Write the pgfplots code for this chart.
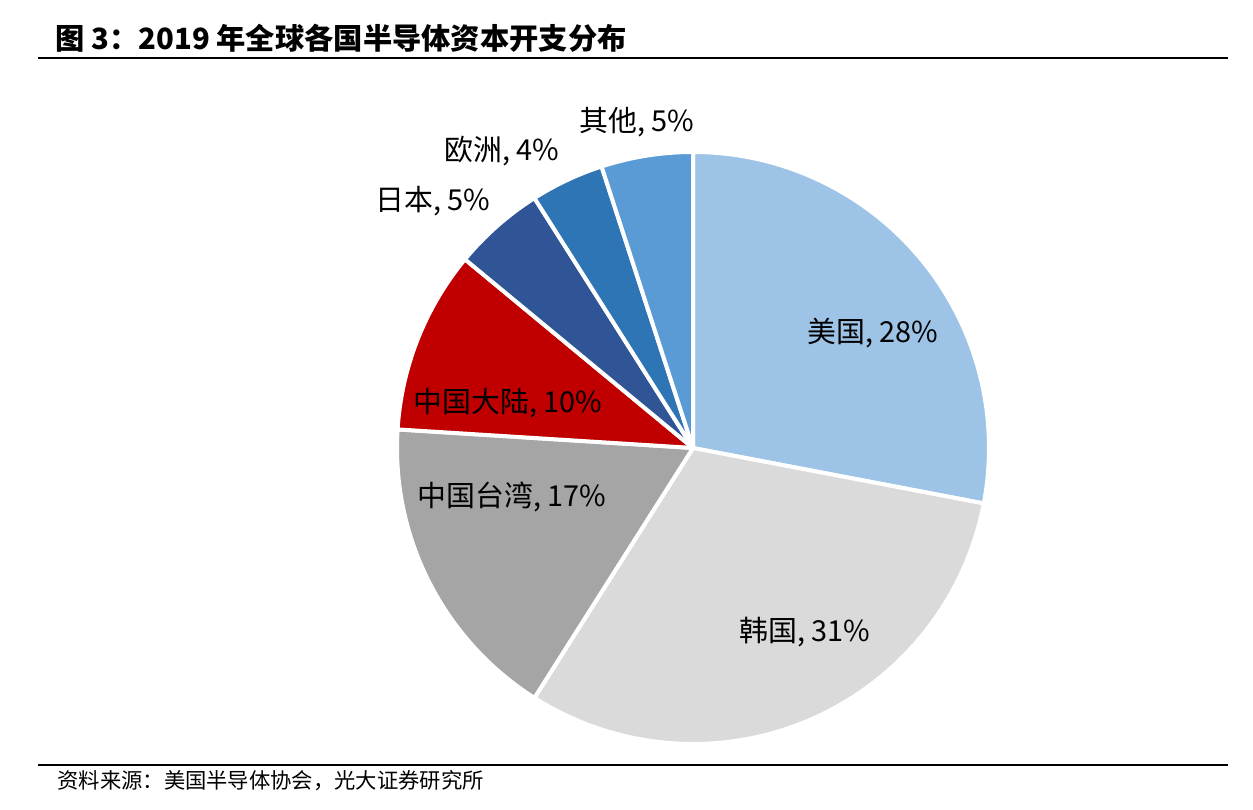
\documentclass[border=0pt]{standalone}
\usepackage{pgfplots}
\pgfplotsset{compat=1.18}
\usepackage{fontspec}
\setmainfont{Noto Sans CJK SC}

\definecolor{cUS}{HTML}{9DC3E6}
\definecolor{cKR}{HTML}{DADADA}
\definecolor{cTW}{HTML}{A5A5A5}
\definecolor{cCN}{HTML}{C00000}
\definecolor{cJP}{HTML}{2F5597}
\definecolor{cEU}{HTML}{2E75B6}
\definecolor{cOT}{HTML}{5B9BD5}

% one wedge: start angle, share in percent, colour (clockwise from the top)
\newcommand{\slice}[3]{%
  \filldraw[fill=#3, draw=white, line width=2bp, line join=round]
    (axis cs:693,362) -- ++(#1:148bp)
    arc[start angle=#1, delta angle=-3.6*#2, radius=148bp] -- cycle;}

\tikzset{lbl/.style={inner sep=0pt, font=\fontsize{14.5}{17}\selectfont}}

\begin{document}
\begin{tikzpicture}
\begin{axis}[
  width=626.5bp, height=405bp, scale only axis,
  xmin=0, xmax=1253, ymin=0, ymax=810,
  axis lines=none, clip=false,
]
\path (axis cs:0,0) rectangle (axis cs:1253,810);
% title and rules
\node[anchor=west, inner sep=0pt, font=\fontsize{14.7}{18}\selectfont\bfseries] at (axis cs:55,772) {图 3：2019 年全球各国半导体资本开支分布};
\draw[line width=1bp] (axis cs:38,752) -- (axis cs:1228,752);
\draw[line width=0.8bp] (axis cs:38,45) -- (axis cs:1228,45);
\node[anchor=west, inner sep=0pt, font=\fontsize{10.7}{13}\selectfont] at (axis cs:57,29) {资料来源：美国半导体协会，光大证券研究所};

% 2019 shares: 28, 31, 17, 10, 5, 4, 5
\slice{90}{28}{cUS}
\slice{-10.8}{31}{cKR}
\slice{-122.4}{17}{cTW}
\slice{-183.6}{10}{cCN}
\slice{-219.6}{5}{cJP}
\slice{-237.6}{4}{cEU}
\slice{-252}{5}{cOT}

\node[lbl] at (axis cs:873,477) {美国, 28\%};
\node[lbl] at (axis cs:805,178) {韩国, 31\%};
\node[lbl] at (axis cs:512,313) {中国台湾, 17\%};
\node[lbl] at (axis cs:508,407) {中国大陆, 10\%};
\node[lbl] at (axis cs:433,609) {日本, 5\%};
\node[lbl] at (axis cs:502,659) {欧洲, 4\%};
\node[lbl] at (axis cs:637,688) {其他, 5\%};
\end{axis}
\end{tikzpicture}
\end{document}
